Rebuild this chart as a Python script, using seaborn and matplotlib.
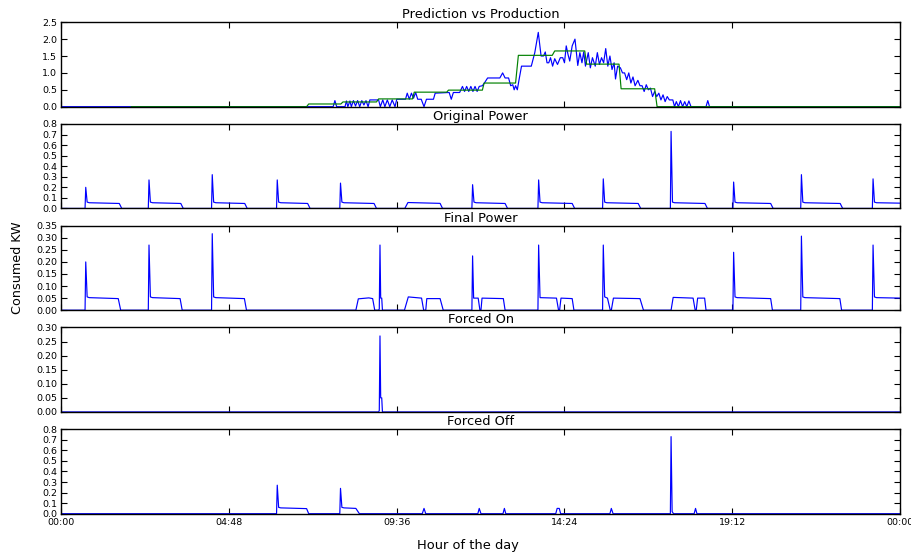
import matplotlib
matplotlib.use("Agg")
import matplotlib.pyplot as plt
import numpy as np
import pandas as pd
import seaborn as sns
from matplotlib.ticker import FormatStrFormatter

# ---------------- data (hour of day, kW) ----------------
titles = ["Prediction vs Production", "Original Power", "Final Power", "Forced On", "Forced Off"]
hour_ticks = [0, 4.8, 9.6, 14.4, 19.2, 24]
hour_labels = ["00:00", "04:48", "09:36", "14:24", "19:12", "00:00"]

production = [
    (0, 0), (7.78, 0), (7.83, 0.18), (7.88, 0), (8.12, 0), (8.16, 0.17), (8.2, 0), (8.26, 0.17),
    (8.3, 0.0), (8.36, 0.18), (8.42, 0.02), (8.48, 0.18), (8.54, 0), (8.6, 0.18), (8.66, 0.05),
    (8.72, 0.18), (8.78, 0), (8.83, 0.2), (9.08, 0.2), (9.13, 0.0), (9.2, 0.2), (9.26, 0.0),
    (9.33, 0.2), (9.4, 0.0), (9.47, 0.2), (9.55, 0.0), (9.6, 0.22), (9.85, 0.22), (9.9, 0.4),
    (9.96, 0.22), (10.02, 0.4), (10.08, 0.25), (10.14, 0.42), (10.2, 0.22), (10.3, 0.22),
    (10.38, 0.0), (10.45, 0.22), (10.65, 0.22), (10.7, 0.4), (11.1, 0.42), (11.16, 0.22),
    (11.22, 0.42), (11.4, 0.42), (11.48, 0.6), (11.54, 0.45), (11.6, 0.6), (11.66, 0.45),
    (11.72, 0.6), (11.78, 0.45), (11.84, 0.6), (11.9, 0.45), (11.96, 0.6), (12.05, 0.62),
    (12.12, 0.72), (12.2, 0.85), (12.55, 0.85), (12.63, 1.0), (12.7, 0.85), (12.8, 0.85),
    (12.86, 0.62), (12.92, 0.65), (12.96, 0.5), (13.0, 0.62), (13.05, 0.5), (13.1, 0.8),
    (13.17, 1.2), (13.45, 1.2), (13.55, 1.6), (13.65, 2.2), (13.73, 1.5), (13.8, 1.5),
    (13.85, 1.62), (13.9, 1.3), (13.95, 1.3), (14.0, 1.45), (14.06, 1.2), (14.12, 1.42),
    (14.2, 1.25), (14.28, 1.45), (14.35, 1.45), (14.4, 1.3), (14.45, 1.8), (14.5, 1.55),
    (14.55, 1.35), (14.62, 1.8), (14.7, 2.0), (14.78, 1.22), (14.84, 1.6), (14.9, 1.3),
    (14.95, 1.62), (15.0, 1.2), (15.08, 1.6), (15.14, 1.15), (15.2, 1.45), (15.28, 1.2),
    (15.34, 1.6), (15.4, 1.25), (15.46, 1.45), (15.52, 1.3), (15.58, 1.72), (15.64, 1.2),
    (15.7, 1.5), (15.76, 1.1), (15.82, 1.3), (15.86, 0.82), (15.92, 1.2), (16.0, 1.15),
    (16.06, 1.0), (16.12, 1.0), (16.18, 0.8), (16.24, 1.0), (16.3, 0.7), (16.36, 0.88),
    (16.42, 0.62), (16.5, 0.78), (16.56, 0.62), (16.62, 0.62), (16.68, 0.45), (16.74, 0.65),
    (16.8, 0.5), (16.86, 0.55), (16.92, 0.3), (16.98, 0.45), (17.04, 0.3), (17.1, 0.4),
    (17.16, 0.2), (17.22, 0.35), (17.28, 0.15), (17.34, 0.3), (17.4, 0.2), (17.5, 0.2),
    (17.55, 0.0), (17.6, 0.15), (17.66, 0.0), (17.72, 0.18), (17.78, 0.0), (17.84, 0.15),
    (17.9, 0.0), (17.96, 0.17), (18.02, 0.0), (18.45, 0.0), (18.5, 0.18), (18.55, 0.0), (24, 0),
]

prediction = [
    (2.0, 0), (7.02, 0), (7.08, 0.08), (8.0, 0.08), (8.06, 0.14), (9.02, 0.14), (9.08, 0.23),
    (10.05, 0.23), (10.1, 0.43), (11.03, 0.43), (11.08, 0.49), (12.05, 0.49), (12.1, 0.70),
    (13.0, 0.70), (13.08, 1.52), (14.05, 1.52), (14.12, 1.65), (14.98, 1.65), (15.03, 1.26),
    (15.96, 1.26), (16.02, 0.53), (16.98, 0.53), (17.05, 0), (24, 0),
]

original_power = [
    (0, 0), (0.68, 0), (0.70, 0.20), (0.74, 0.06), (0.80, 0.054), (1.66, 0.047), (1.73, 0),
    (2.49, 0), (2.51, 0.27), (2.55, 0.06), (2.61, 0.054), (3.42, 0.047), (3.49, 0),
    (4.30, 0), (4.32, 0.32), (4.36, 0.06), (4.42, 0.054), (5.25, 0.047), (5.32, 0),
    (6.16, 0), (6.18, 0.27), (6.22, 0.06), (6.28, 0.054), (7.05, 0.047), (7.12, 0),
    (7.97, 0), (7.99, 0.24), (8.03, 0.06), (8.09, 0.054), (8.95, 0.047), (9.02, 0),
    (9.83, 0), (9.92, 0.056), (10.84, 0.048), (10.91, 0),
    (11.75, 0), (11.77, 0.225), (11.81, 0.06), (11.87, 0.054), (12.70, 0.047), (12.77, 0),
    (13.64, 0), (13.66, 0.27), (13.70, 0.06), (13.76, 0.054), (14.62, 0.047), (14.69, 0),
    (15.49, 0), (15.51, 0.28), (15.55, 0.06), (15.61, 0.054), (16.51, 0.047), (16.58, 0),
    (17.43, 0), (17.45, 0.73), (17.49, 0.06), (17.55, 0.054), (18.42, 0.047), (18.49, 0),
    (19.22, 0), (19.24, 0.25), (19.28, 0.06), (19.34, 0.054), (20.30, 0.047), (20.37, 0),
    (21.16, 0), (21.18, 0.32), (21.22, 0.06), (21.28, 0.054), (22.29, 0.047), (22.36, 0),
    (23.21, 0), (23.23, 0.28), (23.27, 0.06), (23.33, 0.054), (24.0, 0.05),
]

final_power = [
    (0, 0), (0.68, 0), (0.70, 0.20), (0.74, 0.055), (0.80, 0.052), (1.63, 0.048), (1.70, 0),
    (2.49, 0), (2.51, 0.27), (2.55, 0.055), (2.61, 0.052), (3.40, 0.048), (3.46, 0),
    (4.30, 0), (4.32, 0.317), (4.36, 0.055), (4.42, 0.052), (5.24, 0.048), (5.30, 0),
    (8.43, 0), (8.50, 0.047), (8.80, 0.051), (8.91, 0.048), (8.97, 0),
    (9.08, 0), (9.10, 0.005), (9.12, 0.27), (9.14, 0.05), (9.17, 0.05), (9.19, 0),
    (9.82, 0), (9.93, 0.055), (10.31, 0.05), (10.37, 0), (10.43, 0), (10.46, 0.048),
    (10.84, 0.048), (10.93, 0),
    (11.75, 0), (11.77, 0.225), (11.80, 0.05), (11.93, 0.05), (11.98, 0), (12.01, 0),
    (12.04, 0.05), (12.65, 0.048), (12.70, 0),
    (13.64, 0), (13.66, 0.27), (13.70, 0.052), (14.17, 0.05), (14.23, 0), (14.26, 0),
    (14.30, 0.05), (14.62, 0.048), (14.67, 0),
    (15.49, 0), (15.51, 0.27), (15.55, 0.055), (15.63, 0.05), (15.71, 0), (15.74, 0),
    (15.80, 0.05), (16.56, 0.048), (16.66, 0),
    (17.45, 0), (17.51, 0.053), (18.08, 0.05), (18.14, 0), (18.17, 0), (18.21, 0.05),
    (18.41, 0.05), (18.45, 0),
    (19.22, 0), (19.24, 0.24), (19.28, 0.055), (19.34, 0.052), (20.30, 0.048), (20.35, 0),
    (21.16, 0), (21.18, 0.307), (21.22, 0.055), (21.28, 0.052), (22.28, 0.048), (22.33, 0),
    (23.21, 0), (23.23, 0.27), (23.27, 0.055), (23.33, 0.052), (24.0, 0.05),
]

forced_on = [
    (0, 0), (9.08, 0), (9.10, 0.005), (9.12, 0.27), (9.14, 0.05), (9.17, 0.05), (9.19, 0), (24, 0),
]

forced_off = [
    (0, 0), (6.16, 0), (6.18, 0.27), (6.22, 0.06), (6.28, 0.055), (7.02, 0.048), (7.08, 0),
    (7.97, 0), (7.99, 0.24), (8.03, 0.06), (8.09, 0.055), (8.43, 0.05), (8.53, 0),
    (10.33, 0), (10.38, 0.05), (10.43, 0), (11.92, 0), (11.96, 0.05), (12.01, 0),
    (12.64, 0), (12.68, 0.05), (12.72, 0), (14.15, 0), (14.19, 0.05), (14.25, 0.05), (14.29, 0),
    (15.70, 0), (15.74, 0.05), (15.79, 0), (17.43, 0), (17.45, 0.73), (17.48, 0.02), (17.52, 0),
    (18.11, 0), (18.15, 0.05), (18.19, 0), (24, 0),
]

y_limits = [(0, 2.5), (0, 0.8), (0, 0.35), (0, 0.30), (0, 0.8)]
y_steps = [0.5, 0.1, 0.05, 0.05, 0.1]
y_formats = ["%.1f", "%.1f", "%.2f", "%.2f", "%.1f"]

# ---------------- style ----------------
sns.set_theme(style="ticks")
plt.rcParams.update({
    "font.family": ["DejaVu Sans"],
    "axes.edgecolor": "black",
    "axes.linewidth": 1.0,
    "xtick.direction": "in",
    "ytick.direction": "in",
    "xtick.top": True,
    "ytick.right": True,
    "xtick.bottom": True,
    "ytick.left": True,
    "xtick.major.size": 4,
    "ytick.major.size": 4,
    "xtick.major.width": 0.8,
    "ytick.major.width": 0.8,
    "xtick.color": "black",
    "ytick.color": "black",
    "text.color": "black",
    "axes.labelcolor": "black",
})

fig, axes = plt.subplots(5, 1, figsize=(9.12, 5.56), dpi=100, sharex=True)
fig.subplots_adjust(left=0.0672, right=0.9868, top=0.960, bottom=0.0761, hspace=0.205)

series_list = [[production, prediction], [original_power], [final_power], [forced_on], [forced_off]]
colors_list = [["#0000ff", "#008000"], ["#0000ff"], ["#0000ff"], ["#0000ff"], ["#0000ff"]]

for i, ax in enumerate(axes):
    for pairs, col in zip(series_list[i], colors_list[i]):
        df = pd.DataFrame(pairs, columns=["hour", "kw"])
        sns.lineplot(data=df, x="hour", y="kw", ax=ax, color=col, linewidth=0.85,
                     estimator=None, sort=False)
    ax.set_title(titles[i], fontsize=9.4, pad=3)
    ax.set_xlim(0, 24)
    lo, hi = y_limits[i]
    ax.set_ylim(lo, hi)
    ax.set_yticks(np.arange(lo, hi + 1e-9, y_steps[i]))
    ax.yaxis.set_major_formatter(FormatStrFormatter(y_formats[i]))
    ax.set_xlabel("")
    ax.set_ylabel("")
    ax.tick_params(axis="y", labelsize=6.8, pad=3)
    ax.tick_params(axis="x", labelsize=6.8, pad=3)
    for s in ax.spines.values():
        s.set_visible(True)
        s.set_color("black")

axes[-1].set_xticks(hour_ticks)
axes[-1].set_xticklabels(hour_labels)

axes[2].set_ylabel("Consumed KW", fontsize=9.2)
axes[2].yaxis.set_label_coords(-0.045, 0.5)
axes[-1].set_xlabel("Hour of the day", fontsize=9.4)
axes[-1].xaxis.set_label_coords(0.485, -0.30)

fig.savefig("out.png", dpi=100, facecolor="white")
